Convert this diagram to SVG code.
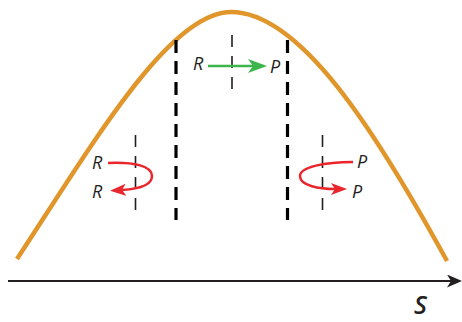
<svg xmlns="http://www.w3.org/2000/svg" width="462" height="322" viewBox="0 0 462 322">
<style>
.lbl{font-family:"Open Sans","Liberation Sans",sans-serif;font-style:italic;font-size:18px;fill:#231F20}
.thick{stroke:#000;stroke-width:3.2;stroke-dasharray:13 8;fill:none}
.thin{stroke:#231F20;stroke-width:1.6;stroke-dasharray:12 9;fill:none}
.red{stroke:#E8262C;stroke-width:2.5;fill:none}
</style>
<defs>
<marker id="ah-black" markerUnits="userSpaceOnUse" markerWidth="16" markerHeight="14" refX="4" refY="6.5" orient="auto"><path d="M0,0 L15,6.5 L0,13 L4,6.5 Z" fill="#231F20"/></marker>
<marker id="ah-green" markerUnits="userSpaceOnUse" markerWidth="20" markerHeight="15" refX="5" refY="7" orient="auto"><path d="M0,0 L19,7 L0,14 L5,7 Z" fill="#3DB54A"/></marker>
<marker id="ah-red" markerUnits="userSpaceOnUse" markerWidth="17" markerHeight="13" refX="4" refY="6" orient="auto"><path d="M0,0 L16,6 L0,12 L4,6 Z" fill="#E8262C"/></marker>
</defs>
<g id="curve"><path d="M17,259 C95,140 170,12 231,12 C300,12 375,130 447,261" fill="none" stroke="#E0962A" stroke-width="4.5"/></g>
<g id="boundaries">
<line class="thick" x1="176" y1="40" x2="176" y2="220"/>
<line class="thick" x1="287.5" y1="40" x2="287.5" y2="220"/>
</g>
<g id="barriers">
<line class="thin" x1="232" y1="35" x2="232" y2="90"/>
<line class="thin" x1="135.5" y1="135" x2="135.5" y2="212"/>
<line class="thin" x1="322.5" y1="135" x2="322.5" y2="212"/>
</g>
<g id="connectors">
<line x1="8" y1="281" x2="451" y2="281" stroke="#231F20" stroke-width="2" marker-end="url(#ah-black)"/>
<line x1="208" y1="66" x2="253" y2="66" stroke="#3DB54A" stroke-width="2.5" marker-end="url(#ah-green)"/>
<path class="red" d="M108,163 C135,162 152,166 152,176 C152,186 138,189 122,190" marker-end="url(#ah-red)"/>
<path class="red" d="M353,162 C325,162 300,167 300,176 C300,186 320,189 335,189" marker-end="url(#ah-red)"/>
</g>
<g id="labels">
<text class="lbl" x="193" y="70">R</text>
<text class="lbl" x="270" y="73">P</text>
<text class="lbl" x="92" y="169">R</text>
<text class="lbl" x="92" y="198">R</text>
<text class="lbl" x="357" y="168">P</text>
<text class="lbl" x="352" y="198">P</text>
<text x="414" y="314" style="font-family:'Open Sans','Liberation Sans',sans-serif;font-style:italic;font-weight:600;font-size:25px;fill:#231F20">S</text>
</g>
</svg>
